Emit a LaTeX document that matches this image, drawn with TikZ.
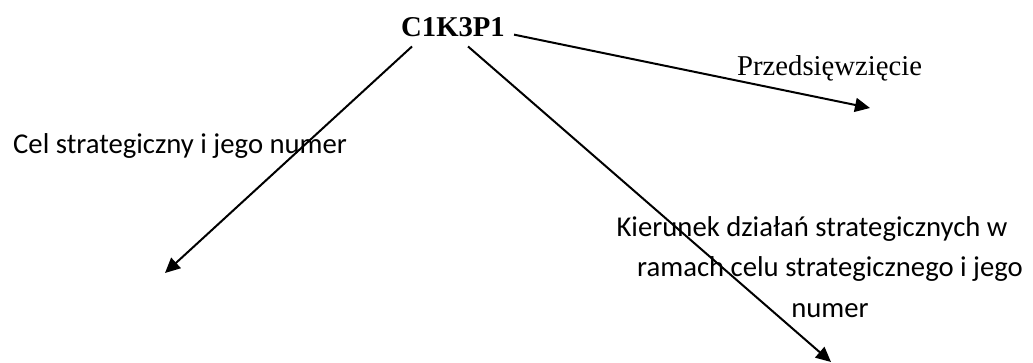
\documentclass[tikz,border=0pt]{standalone}
\usepackage{fontspec}
\setmainfont{Liberation Serif}
\newfontfamily\calfont{Carlito}
\usetikzlibrary{arrows.meta,positioning}
\tikzset{
  flow/.style={-{Triangle[length=15pt,width=14pt]},line width=2pt},
  code/.style={font=\fontsize{28.7}{34}\selectfont\bfseries,inner sep=9pt},
  lab/.style={font=\calfont\fontsize{28.7}{40.3}\selectfont,align=center,inner sep=0pt},
  labser/.style={font=\fontsize{28.7}{34}\selectfont,inner sep=0pt},
}

\begin{document}
\begin{tikzpicture}[x=1pt,y=-1pt]
  \useasboundingbox (0,0) rectangle (1033,363);
  \node[code,anchor=base west] (kod) at (392,37) {C1K3P1};
  \node[labser,anchor=base west] (przed) at (737,76) {Przedsięwzięcie};
  \node[lab,anchor=base west] (cel) at (13,154) {Cel strategiczny i jego numer};
  \node[lab,anchor=base] (kier) at (830,317) {Kierunek działań strategicznych w\hspace*{36pt}\\ramach celu strategicznego i jego\\numer};
  \coordinate (przedEnd) at (870,108);
  \coordinate (celEnd) at (165,273);
  \coordinate (kierEnd) at (831,362);
  \draw[flow] ([yshift=-7pt]kod.east) -- (przedEnd);
  \draw[flow] ([xshift=20pt]kod.south west) -- (celEnd);
  \draw[flow] ([xshift=-46pt]kod.south east) -- (kierEnd);
\end{tikzpicture}
\end{document}
